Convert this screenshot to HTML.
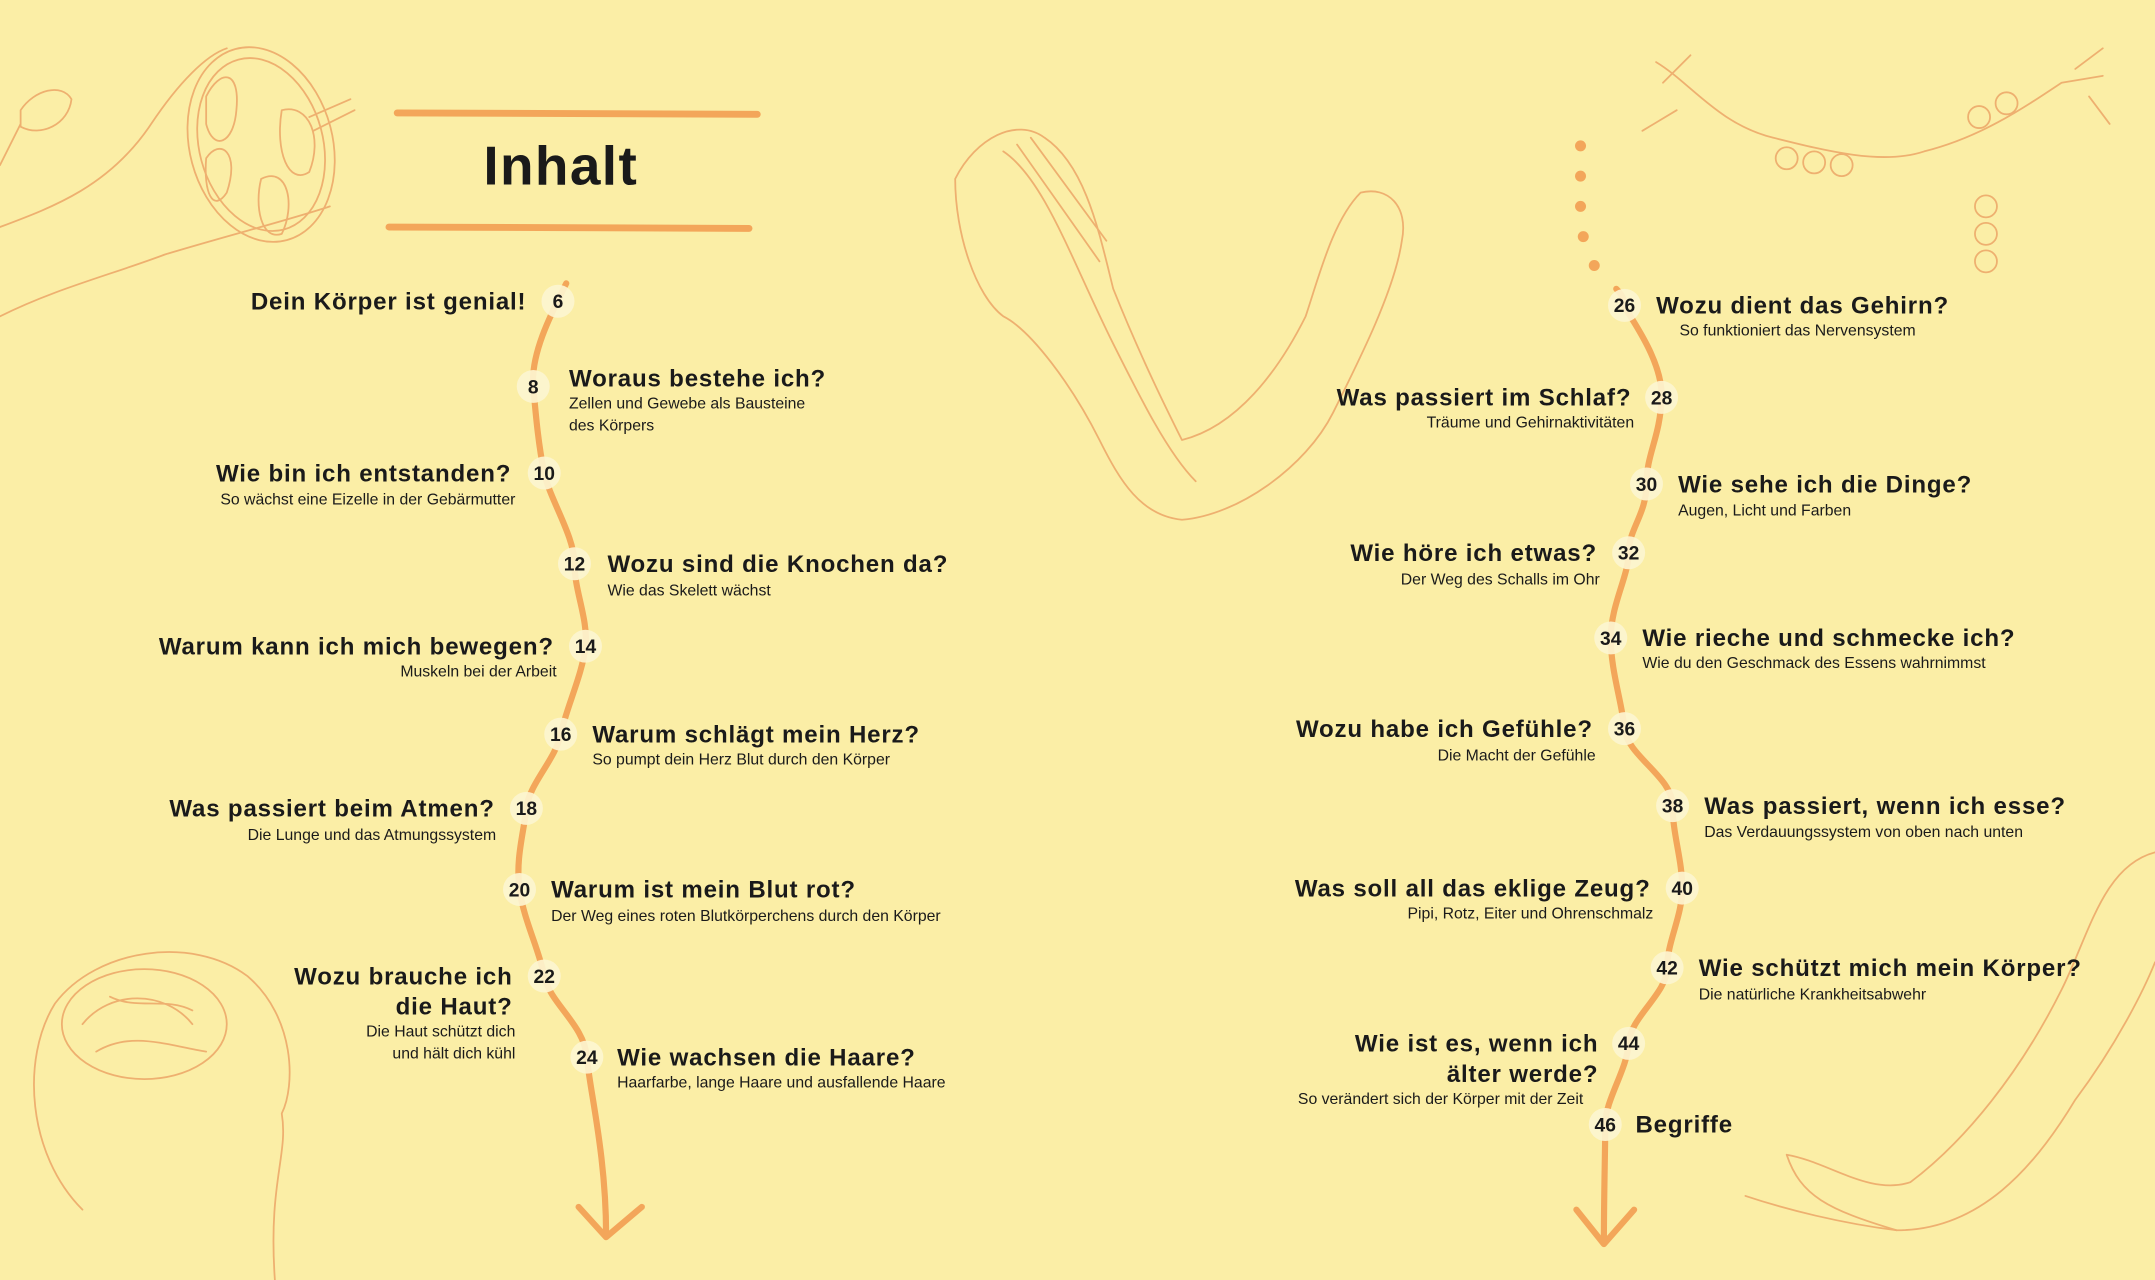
<!DOCTYPE html>
<html><head><meta charset="utf-8"><style>
html,body{margin:0;padding:0;background:#fbeea6;}
svg{display:block}
text{font-family:"Liberation Sans",sans-serif;fill:#1a1a1a}
.t{font-size:17.5px;font-weight:bold;letter-spacing:0.6px}
.s{font-size:11.5px}
.n{font-size:14px;font-weight:bold;text-anchor:middle}
.r{text-anchor:end}
.d{fill:none;stroke:#eeb070;stroke-width:1.3;stroke-linecap:round;stroke-linejoin:round}
</style></head><body>
<svg width="2155" height="1280" viewBox="0 0 1568 931" xmlns="http://www.w3.org/2000/svg">
<rect width="1568" height="931" fill="#fbeea6"/>
<!-- decorations -->
<g class="d">
<path d="M0,165 C40,150 80,135 110,90 C130,60 150,40 165,35"/>
<path d="M0,230 C40,210 80,200 120,185 C170,170 210,160 240,150"/>
<ellipse cx="190" cy="105" rx="52" ry="72" transform="rotate(-15 190 105)"/>
<ellipse cx="190" cy="105" rx="45" ry="64" transform="rotate(-15 190 105)"/>
<path d="M150,70 C160,50 175,50 172,80 C170,105 155,110 150,90Z M150,115 C160,100 175,110 165,140 C155,155 148,140 150,115Z M190,130 C210,120 215,150 205,170 C190,175 185,150 190,130Z M205,80 C225,75 235,100 225,125 C210,135 200,110 205,80Z"/>
<path d="M225,85 L255,72 M228,95 L258,80"/>
<path d="M15,80 C25,65 45,60 52,72 C50,90 30,100 15,92Z M0,120 L15,90"/>
<path d="M695,130 C710,100 740,85 760,100 C790,120 800,170 810,210 C830,260 850,300 860,320 C900,310 930,270 950,230 C960,200 970,160 990,140 C1010,135 1025,150 1020,175 C1015,210 990,260 970,300 C950,340 900,375 860,378 C830,375 815,350 800,320 C780,280 750,240 730,230 C710,215 695,170 695,130Z"/>
<path d="M730,110 C760,130 780,190 810,250 C830,290 850,330 870,350"/>
<path d="M740,105 L800,190 M750,100 L805,175"/>
<path d="M60,880 C20,840 15,770 40,730 C70,690 140,680 180,710 C215,740 215,790 205,810 C210,840 195,860 200,931"/>
<ellipse cx="105" cy="745" rx="60" ry="40"/>
<path d="M60,745 C80,720 120,720 140,745 M70,765 C95,750 120,760 150,765 M80,725 C100,735 120,725 140,735"/>
<path d="M1205,45 C1230,60 1250,90 1290,100 C1330,110 1370,120 1400,110 C1440,100 1470,80 1500,60 L1530,55"/>
<circle cx="1300" cy="115" r="8"/><circle cx="1320" cy="118" r="8"/><circle cx="1340" cy="120" r="8"/><circle cx="1440" cy="85" r="8"/><circle cx="1460" cy="75" r="8"/><circle cx="1445" cy="150" r="8"/><circle cx="1445" cy="170" r="8"/><circle cx="1445" cy="190" r="8"/>
<path d="M1210,60 L1230,40 M1220,80 L1195,95 M1520,70 L1535,90 M1510,50 L1530,35"/>
<path d="M1568,620 C1530,630 1520,680 1500,720 C1470,780 1430,830 1390,860 C1360,870 1330,845 1300,840 C1310,870 1330,880 1380,895 C1440,895 1480,850 1510,800 C1540,760 1560,720 1568,700"/>
<path d="M1270,870 C1300,880 1340,890 1380,895"/>
</g>
<!-- title -->
<path d="M289,82 L551,83 M283,165 L545,166" stroke="#f3a65a" stroke-width="5" stroke-linecap="round"/>
<text x="408" y="134" style="font-size:40px;font-weight:bold;text-anchor:middle;letter-spacing:1px">Inhalt</text>
<!-- paths -->
<path d="M412,206 C400,230 386,258 388,281 S392,325 396,344 S418,390 418,410 S428,450 426,470 S412,515 408,534 S385,570 383,588 S375,625 378,647 S392,690 396,710 S425,745 427,769 S441,840 441,898" fill="none" stroke="#f3a65a" stroke-width="4.5" stroke-linecap="round"/>
<path d="M421,878 L441,900 L467,878" fill="none" stroke="#f3a65a" stroke-width="4.5" stroke-linecap="round" stroke-linejoin="round"/>
<path d="M1176,210 C1180,214 1182,218 1182,222 S1210,260 1209,289 S1198,330 1198,352 S1185,385 1185,402 S1172,440 1172,464 S1180,510 1182,530 S1217,565 1217,586 S1224,625 1224,646 S1213,685 1213,704 S1186,740 1185,759 S1168,800 1168,818 S1167,870 1167,903" fill="none" stroke="#f3a65a" stroke-width="4.5" stroke-linecap="round"/>
<path d="M1147,880 L1167,905 L1189,880" fill="none" stroke="#f3a65a" stroke-width="4.5" stroke-linecap="round" stroke-linejoin="round"/>
<g fill="#f3a65a"><circle cx="1150" cy="106" r="4"/><circle cx="1150" cy="128" r="4"/><circle cx="1150" cy="150" r="4"/><circle cx="1152" cy="172" r="4"/><circle cx="1160" cy="193" r="4"/></g>
<!-- number circles -->
<g fill="#fdf6d2" opacity="0.9">
<circle cx="406" cy="219" r="12"/><circle cx="388" cy="281" r="12"/><circle cx="396" cy="344" r="12"/><circle cx="418" cy="410" r="12"/><circle cx="426" cy="470" r="12"/><circle cx="408" cy="534" r="12"/><circle cx="383" cy="588" r="12"/><circle cx="378" cy="647" r="12"/><circle cx="396" cy="710" r="12"/><circle cx="427" cy="769" r="12"/>
<circle cx="1182" cy="222" r="12"/><circle cx="1209" cy="289" r="12"/><circle cx="1198" cy="352" r="12"/><circle cx="1185" cy="402" r="12"/><circle cx="1172" cy="464" r="12"/><circle cx="1182" cy="530" r="12"/><circle cx="1217" cy="586" r="12"/><circle cx="1224" cy="646" r="12"/><circle cx="1213" cy="704" r="12"/><circle cx="1185" cy="759" r="12"/><circle cx="1168" cy="818" r="12"/>
</g>
<g class="n">
<text class="n" x="406" y="224">6</text><text class="n" x="388" y="286">8</text><text class="n" x="396" y="349">10</text><text class="n" x="418" y="415">12</text><text class="n" x="426" y="475">14</text><text class="n" x="408" y="539">16</text><text class="n" x="383" y="593">18</text><text class="n" x="378" y="652">20</text><text class="n" x="396" y="715">22</text><text class="n" x="427" y="774">24</text>
<text class="n" x="1182" y="227">26</text><text class="n" x="1209" y="294">28</text><text class="n" x="1198" y="357">30</text><text class="n" x="1185" y="407">32</text><text class="n" x="1172" y="469">34</text><text class="n" x="1182" y="535">36</text><text class="n" x="1217" y="591">38</text><text class="n" x="1224" y="651">40</text><text class="n" x="1213" y="709">42</text><text class="n" x="1185" y="764">44</text><text class="n" x="1168" y="823">46</text>
</g>
<!-- left entries -->
<text class="t r" x="383" y="225">Dein Körper ist genial!</text>
<text class="t" x="414" y="281">Woraus bestehe ich?</text>
<text class="s" x="414" y="297">Zellen und Gewebe als Bausteine</text>
<text class="s" x="414" y="313">des Körpers</text>
<text class="t r" x="372" y="350">Wie bin ich entstanden?</text>
<text class="s r" x="375" y="367">So wächst eine Eizelle in der Gebärmutter</text>
<text class="t" x="442" y="416">Wozu sind die Knochen da?</text>
<text class="s" x="442" y="433">Wie das Skelett wächst</text>
<text class="t r" x="403" y="476">Warum kann ich mich bewegen?</text>
<text class="s r" x="405" y="492">Muskeln bei der Arbeit</text>
<text class="t" x="431" y="540">Warum schlägt mein Herz?</text>
<text class="s" x="431" y="556">So pumpt dein Herz Blut durch den Körper</text>
<text class="t r" x="360" y="594">Was passiert beim Atmen?</text>
<text class="s r" x="361" y="611">Die Lunge und das Atmungssystem</text>
<text class="t" x="401" y="653">Warum ist mein Blut rot?</text>
<text class="s" x="401" y="670">Der Weg eines roten Blutkörperchens durch den Körper</text>
<text class="t r" x="373" y="716">Wozu brauche ich</text>
<text class="t r" x="373" y="738">die Haut?</text>
<text class="s r" x="375" y="754">Die Haut schützt dich</text>
<text class="s r" x="375" y="770">und hält dich kühl</text>
<text class="t" x="449" y="775">Wie wachsen die Haare?</text>
<text class="s" x="449" y="791">Haarfarbe, lange Haare und ausfallende Haare</text>
<!-- right entries -->
<text class="t" x="1205" y="228">Wozu dient das Gehirn?</text>
<text class="s" x="1222" y="244">So funktioniert das Nervensystem</text>
<text class="t r" x="1187" y="295">Was passiert im Schlaf?</text>
<text class="s r" x="1189" y="311">Träume und Gehirnaktivitäten</text>
<text class="t" x="1221" y="358">Wie sehe ich die Dinge?</text>
<text class="s" x="1221" y="375">Augen, Licht und Farben</text>
<text class="t r" x="1162" y="408">Wie höre ich etwas?</text>
<text class="s r" x="1164" y="425">Der Weg des Schalls im Ohr</text>
<text class="t" x="1195" y="470">Wie rieche und schmecke ich?</text>
<text class="s" x="1195" y="486">Wie du den Geschmack des Essens wahrnimmst</text>
<text class="t r" x="1159" y="536">Wozu habe ich Gefühle?</text>
<text class="s r" x="1161" y="553">Die Macht der Gefühle</text>
<text class="t" x="1240" y="592">Was passiert, wenn ich esse?</text>
<text class="s" x="1240" y="609">Das Verdauungssystem von oben nach unten</text>
<text class="t r" x="1201" y="652">Was soll all das eklige Zeug?</text>
<text class="s r" x="1203" y="668">Pipi, Rotz, Eiter und Ohrenschmalz</text>
<text class="t" x="1236" y="710">Wie schützt mich mein Körper?</text>
<text class="s" x="1236" y="727">Die natürliche Krankheitsabwehr</text>
<text class="t r" x="1163" y="765">Wie ist es, wenn ich</text>
<text class="t r" x="1163" y="787">älter werde?</text>
<text class="s r" x="1152" y="803">So verändert sich der Körper mit der Zeit</text>
<text class="t" x="1190" y="824">Begriffe</text>
</svg>
</body></html>
